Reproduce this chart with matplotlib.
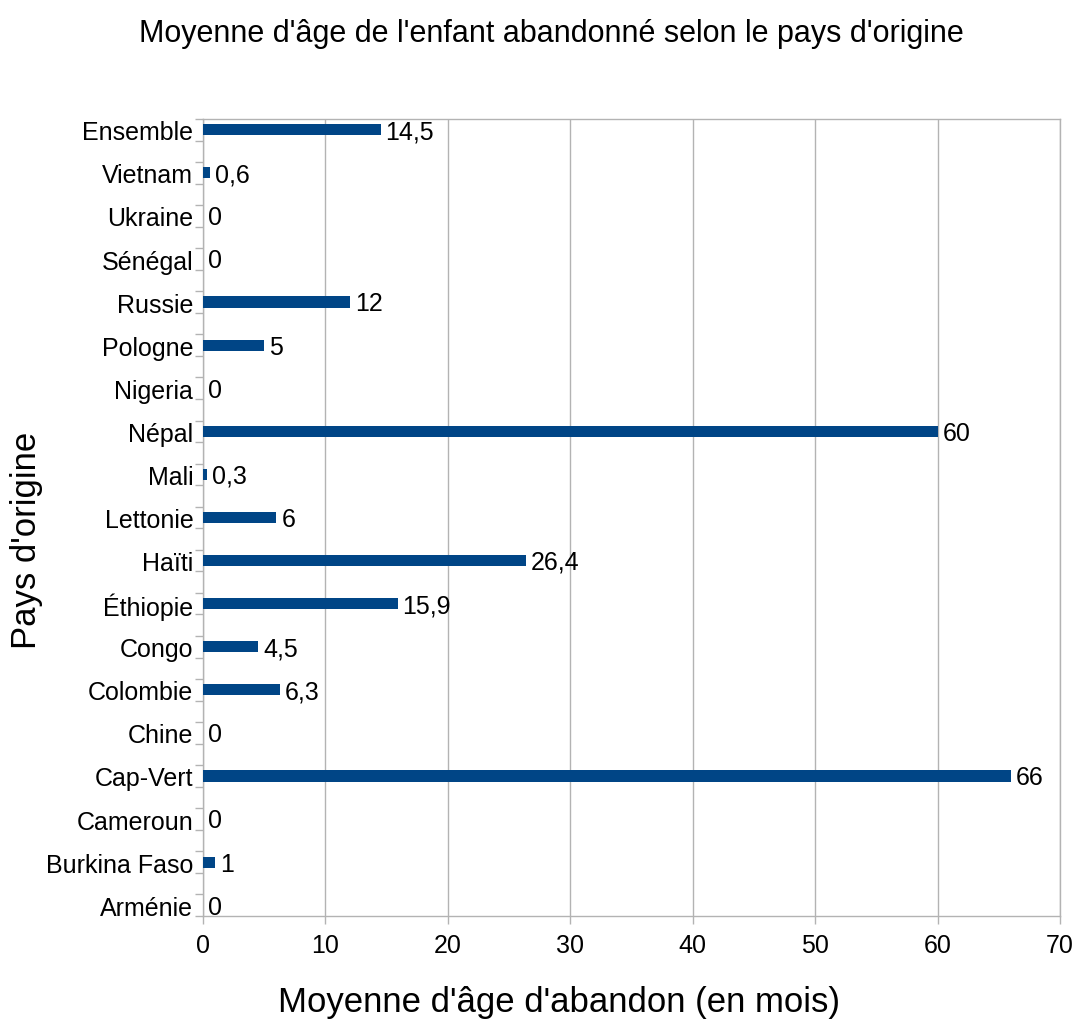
import matplotlib
matplotlib.use("Agg")
import matplotlib.pyplot as plt
import numpy as np

plt.rcParams['font.family'] = ['Liberation Sans', 'DejaVu Sans']

countries = ["Arménie", "Burkina Faso", "Cameroun", "Cap-Vert", "Chine", "Colombie",
             "Congo", "Éthiopie", "Haïti", "Lettonie", "Mali", "Népal", "Nigeria",
             "Pologne", "Russie", "Sénégal", "Ukraine", "Vietnam", "Ensemble"]
values = [0, 1, 0, 66, 0, 6.3, 4.5, 15.9, 26.4, 6, 0.3, 60, 0, 5, 12, 0, 0, 0.6, 14.5]
xticks = [0, 10, 20, 30, 40, 50, 60, 70]

title = "Moyenne d'âge de l'enfant abandonné selon le pays d'origine"
xlabel = "Moyenne d'âge d'abandon (en mois)"
ylabel = "Pays d'origine"

BAR = "#004586"
GRID = "#b3b3b3"

fig = plt.figure(figsize=(10.76, 10.2), dpi=100)
ax = fig.add_axes([203/1076, 1 - 917/1020, (1060-203)/1076, (917-120)/1020])

y = np.arange(len(countries))
ax.barh(y, values, height=0.26, color=BAR, zorder=3)

for yi, v in zip(y, values):
    txt = ("%g" % v).replace(".", ",")
    ax.annotate(txt, xy=(v, yi), xytext=(3.5, -1), textcoords="offset points",
                va="center", ha="left", fontsize=18, color="black", zorder=4)

ax.set_xlim(0, 70)
ax.set_ylim(-0.25, len(countries) - 0.75)
ax.set_xticks(xticks)
ax.set_xticklabels([str(t) for t in xticks], fontsize=18)
ax.set_yticks(y)
ax.set_yticklabels(countries, fontsize=18)
ax.tick_params(axis='y', length=0, pad=7)
ax.set_yticks(np.arange(-0.25, len(countries) - 0.5, 0.5), minor=True)
ax.tick_params(axis='y', which='minor', length=6, color=GRID, width=1)
ax.tick_params(axis='x', length=6, color=GRID, width=1, pad=6)

ax.grid(axis='x', color=GRID, linewidth=1, zorder=0)
for s in ax.spines.values():
    s.set_color(GRID)
    s.set_linewidth(1)

fig.text(551/1076, 1 - 34/1020, title, ha="center", va="center", fontsize=22)
fig.text(559/1076, 1 - 1003/1020, xlabel, ha="center", va="center", fontsize=25)
fig.text(27/1076, 1 - 540/1020, ylabel, ha="center", va="center", fontsize=25, rotation=90)

fig.savefig("out.png", dpi=100)
